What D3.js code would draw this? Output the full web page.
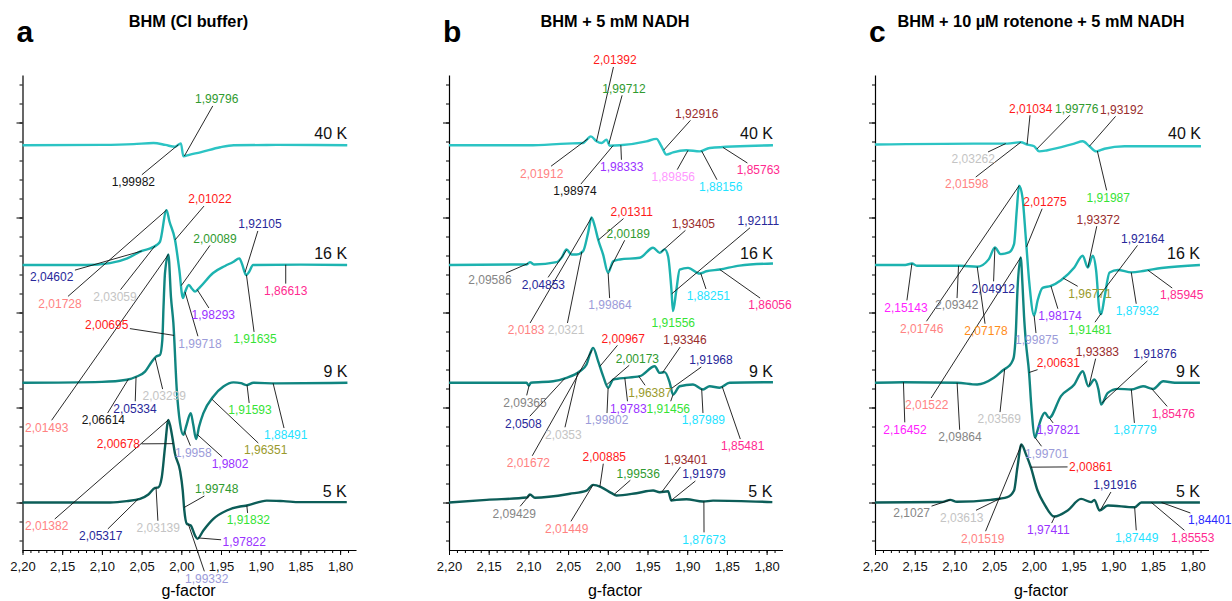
<!DOCTYPE html>
<html>
<head>
<meta charset="utf-8">
<script src="https://cdn.jsdelivr.net/npm/d3@7"></script>
<style>
  body { margin: 0; background: #fff; }
  svg text { font-family: Arial, "Liberation Sans", sans-serif; }
</style>
</head>
<body>
<svg id="chart" width="1232" height="601"></svg>
<script>
// ---- data ----
var letters = ["a", "b", "c"];
var titles = ["BHM (CI buffer)", "BHM + 5 mM NADH", "BHM + 10 \u00b5M rotenone + 5 mM NADH"];
var temps = ["40 K", "16 K", "9 K", "5 K"];
var offsets = [18.8, 12.5, 6.3, 0];
var gTicks = [2.20, 2.15, 2.10, 2.05, 2.00, 1.95, 1.90, 1.85, 1.80];

// spectra: [g, intensity] (arbitrary units, relative to each baseline)
var specA40 = [[2.20,0],[2.10,0.02],[2.06,0.06],[2.035,0.12],[2.02,0.02],[2.008,-0.08],[2.003,0.05],[2.0005,0.1],[1.9974,-0.58],[1.99,-0.5],[1.976,-0.37],[1.951,-0.1],[1.934,0],[1.88,0.02],[1.791,0]];
var specA16 = [[2.20,0],[2.12,0],[2.09,0.1],[2.068,0.35],[2.052,0.7],[2.031,1.05],[2.0268,1.23],[2.0186,2.89],[2.015,2.3],[2.0079,1.32],[2.0025,-0.26],[1.998,-1.74],[1.9953,-1.42],[1.9905,-1.05],[1.9865,-1.25],[1.9827,-1.4],[1.9764,-1.16],[1.96,-0.42],[1.9449,-0.05],[1.9348,0.16],[1.9269,0.35],[1.9235,0.05],[1.9184,-0.53],[1.9147,-0.37],[1.9096,0],[1.85,0.02],[1.7912,0]];
var specA9 = [[2.20,0],[2.10,0.05],[2.0687,0.16],[2.0561,0.33],[2.0457,0.59],[2.0372,1.11],[2.0318,1.38],[2.0268,1.47],[2.0239,2.26],[2.0224,4.0],[2.0205,5.8],[2.0163,6.75],[2.013,4.5],[2.01,3.15],[2.0057,-0.37],[2.0016,-2.12],[1.9974,-2.74],[1.994,-2.3],[1.9881,-1.6],[1.985,-2.2],[1.9814,-2.96],[1.9776,-2.3],[1.9722,-1.6],[1.9596,-0.72],[1.947,-0.2],[1.9344,0.02],[1.925,-0.02],[1.9175,-0.12],[1.9092,0],[1.88,-0.03],[1.7908,0]];
var specA5 = [[2.20,0],[2.0898,0],[2.0687,0.07],[2.052,0.19],[2.0415,0.42],[2.0331,0.77],[2.0289,0.8],[2.0246,1.33],[2.0205,2.93],[2.0163,4.35],[2.012,3.61],[2.0079,2.56],[2.0016,1.68],[1.9982,0.63],[1.9962,-0.42],[1.9931,-1.12],[1.9881,-1.21],[1.9827,-1.74],[1.9798,-1.91],[1.9722,-1.47],[1.9596,-0.86],[1.9427,-0.42],[1.926,-0.21],[1.9175,-0.16],[1.8924,0.1],[1.8714,0.07],[1.8504,0.02],[1.7916,0.02]];

var specB40 = [[2.20,0],[2.10,0],[2.052,0.09],[2.031,0.12],[2.0264,0.3],[2.0214,0.47],[2.0142,0.21],[2.0079,0.12],[2.0016,0.3],[1.9975,-0.02],[1.9849,0],[1.9513,0.21],[1.9387,0.34],[1.9325,-0.05],[1.9262,-0.49],[1.9178,-0.37],[1.901,-0.26],[1.8843,-0.32],[1.8717,-0.14],[1.792,0]];
var specB16 = [[2.20,0],[2.1023,0.03],[2.0981,0.15],[2.093,0.03],[2.0645,0.15],[2.0579,0.4],[2.052,0.82],[2.0457,0.55],[2.0394,0.55],[2.0311,0.73],[2.0248,1.7],[2.0205,2.5],[2.0164,2.04],[2.0122,1.34],[2.0059,0.55],[1.9996,-0.41],[1.9933,0.2],[1.9849,0.29],[1.9597,0.38],[1.943,0.91],[1.9346,0.64],[1.9283,0.82],[1.9241,0.46],[1.9199,-1.29],[1.9179,-2.43],[1.9136,-1.29],[1.9095,-0.24],[1.899,-0.15],[1.8843,-0.45],[1.8759,-0.33],[1.8592,-0.24],[1.834,-0.03],[1.792,0.08]];
var specB9 = [[2.20,0],[2.1023,0],[2.0995,-0.15],[2.0969,0],[2.0688,0.08],[2.052,0.26],[2.0352,0.61],[2.0268,0.96],[2.0226,1.5],[2.0185,1.84],[2.0122,1.14],[2.0059,0.35],[1.9996,-0.26],[1.9933,0.17],[1.9849,0.23],[1.9597,0.35],[1.9409,0.87],[1.9346,0.52],[1.9283,0.56],[1.922,0],[1.9179,-0.62],[1.9095,-0.18],[1.8927,-0.09],[1.8801,-0.35],[1.8717,-0.18],[1.8592,-0.26],[1.8466,0],[1.792,0.03]];
var specB5 = [[2.20,0],[2.1526,0.14],[2.1019,0.26],[2.0981,0.42],[2.0918,0.25],[2.0478,0.46],[2.0268,0.63],[2.0185,0.93],[2.0079,0.8],[1.9953,0.49],[1.9891,0.37],[1.9639,0.49],[1.943,0.63],[1.9346,0.54],[1.9241,0.59],[1.9199,0.1],[1.9136,0.14],[1.901,0.17],[1.8801,0.05],[1.8675,0.1],[1.7928,0.02]];

var specC40 = [[2.20,0.04],[2.0756,0.09],[2.0333,0.09],[2.0165,0.16],[2.008,0.04],[1.9996,-0.05],[1.9933,-0.32],[1.9827,-0.26],[1.949,0.09],[1.9384,0.21],[1.93,-0.05],[1.9215,-0.32],[1.911,-0.18],[1.8857,-0.05],[1.7895,-0.05]];
var specC16 = [[2.20,0],[2.162,0],[2.1535,0.08],[2.1472,-0.04],[2.0924,-0.04],[2.0713,-0.09],[2.0566,0.31],[2.049,0.92],[2.0418,0.57],[2.0313,0.66],[2.0249,1.1],[2.0215,2.86],[2.0186,4.17],[2.0143,3.56],[2.0101,1.44],[2.0059,-0.83],[1.9996,-2.66],[1.9953,-1.88],[1.989,-1.2],[1.9785,-1.1],[1.9658,-0.8],[1.949,-0.13],[1.9384,0.49],[1.932,-0.13],[1.9257,0.49],[1.9215,-0.3],[1.9173,-2.4],[1.9152,-2.58],[1.911,-1.71],[1.9046,-0.39],[1.894,-0.26],[1.8772,-0.39],[1.8604,-0.3],[1.8392,-0.16],[1.7908,0]];
var specC9 = [[2.20,0],[2.1642,0.03],[2.0966,0],[2.0713,-0.09],[2.0503,0.26],[2.0376,0.7],[2.0313,0.88],[2.027,1.14],[2.025,1.4],[2.0228,2.5],[2.0206,4.86],[2.0165,6.6],[2.0143,5.2],[2.0123,3.5],[2.0101,2.2],[2.0059,0.5],[2.003,-1.3],[1.9984,-2.88],[1.9953,-2.5],[1.9911,-1.93],[1.9861,-1.58],[1.9806,-1.84],[1.9658,-0.7],[1.949,-0.09],[1.9384,0.61],[1.9313,-0.18],[1.9237,0.17],[1.9186,-0.35],[1.9152,-1.14],[1.9068,-0.53],[1.8941,-0.32],[1.8772,-0.35],[1.8624,-0.18],[1.8497,-0.32],[1.837,0.08],[1.8224,0],[1.7908,0]];
var specC5 = [[2.20,0],[2.115,0.03],[2.1051,0.14],[2.097,0.04],[2.0544,0.14],[2.0333,0.28],[2.0249,0.63],[2.0206,1.86],[2.0156,3.05],[2.0101,2.56],[2.0038,1.86],[1.9953,0.63],[1.9869,-0.07],[1.9743,-0.74],[1.9574,-0.42],[1.9405,0.19],[1.9278,0.02],[1.9237,0.14],[1.9173,-0.42],[1.9068,-0.16],[1.873,-0.25],[1.8646,0],[1.7908,0]];

// peak labels: [text, trace index, g where the leader meets the trace, colour key]
var labelsA = [
  ["1,99796",0,1.9962,"green"],["1,99982",0,2.0037,"black"],["2,01022",1,2.0079,"red"],
  ["2,04602",1,2.0498,"navy"],["2,01728",1,2.0186,"salmon"],["2,03059",1,2.033,"silver"],
  ["2,00695",2,2.0092,"red"],["1,99718",1,1.9953,"lav"],["1,98293",1,1.980,"purple"],
  ["2,00089",1,2.000,"green"],["1,92105",1,1.9197,"navy"],["1,91635",1,1.918,"lime"],
  ["1,86613",1,1.8685,"pink"],["2,01493",2,2.0163,"salmon"],["2,06614",2,2.0667,"black"],
  ["2,05334",2,2.057,"navy"],["2,03299",2,2.033,"silver"],["1,9958",2,1.996,"lav"],
  ["1,9802",2,1.980,"purple"],["1,96351",2,1.9616,"olive"],["1,91593",2,1.9172,"lime"],
  ["1,88491",2,1.8844,"cyan"],["2,00678",3,2.010,"red"],["2,01382",3,2.0163,"salmon"],
  ["2,05317",3,2.0545,"navy"],["2,03139",3,2.0318,"silver"],["1,99748",3,1.9965,"green"],
  ["1,91832",3,1.9175,"lime"],["1,97822",3,1.979,"purple"],["1,99332",3,1.991,"lav"]
];
var labelsB = [
  ["2,01392",0,2.0142,"red"],["1,99712",0,1.9987,"green"],["1,92916",0,1.9296,"maroon"],
  ["2,01912",0,2.025,"salmon"],["1,98974",0,1.9933,"black"],["1,98333",0,1.9836,"purple"],
  ["1,89856",0,1.899,"violet"],["1,88156",0,1.882,"cyan"],["1,85763",0,1.855,"pink"],
  ["2,01311",1,2.012,"red"],["2,00189",1,1.9984,"green"],["1,93405",1,1.9325,"maroon"],
  ["1,92111",1,1.9195,"navy"],["2,09586",1,2.1005,"gray"],["2,04853",1,2.0516,"navy"],
  ["1,99864",1,1.9996,"lav"],["1,91556",1,null,"lime"],["1,88251",1,1.883,"cyan"],
  ["1,86056",1,1.859,"pink"],["2,0183",1,2.0205,"salmon"],["2,0321",1,2.0327,"silver"],
  ["2,00967",2,2.010,"red"],["2,00173",2,2.0013,"green"],["1,93346",2,1.931,"maroon"],
  ["1,91968",2,1.920,"navy"],["2,09365",2,2.099,"gray"],["2,0508",2,2.054,"navy"],
  ["2,0353",2,2.0377,"silver"],["2,01672",2,2.020,"salmon"],["1,99802",2,1.9996,"lav"],
  ["1,9783",2,1.9786,"purple"],["1,96387",2,1.961,"olive"],["1,91456",2,1.9179,"lime"],
  ["1,87989",2,1.8818,"cyan"],["1,85481",2,1.856,"pink"],["2,00885",3,2.010,"red"],
  ["1,99536",3,1.992,"green"],["1,93401",3,1.932,"maroon"],["1,91979",3,1.920,"navy"],
  ["2,09429",3,2.098,"gray"],["2,01449",3,2.0186,"salmon"],["1,87673",3,1.879,"cyan"]
];
var labelsC = [
  ["2,01034",0,2.0085,"red"],["1,99776",0,1.9962,"green"],["1,93192",0,1.930,"maroon"],
  ["2,03262",0,2.0354,"silver"],["2,01598",0,2.0165,"salmon"],["1,91987",0,1.920,"lime"],
  ["2,01275",1,2.0092,"red"],["1,93372",1,1.932,"maroon"],["1,92164",1,1.9187,"navy"],
  ["2,15143",1,2.1535,"magenta"],["2,09342",1,2.0948,"gray"],["2,04912",1,2.049,"navy"],
  ["2,01746",1,2.0186,"salmon"],["2,07178",1,2.0713,"orange"],["1,96771",1,1.963,"olive"],
  ["1,98174",1,1.9785,"purple"],["1,99875",1,1.9996,"lav"],["1,91481",1,1.915,"lime"],
  ["1,87932",1,1.8773,"cyan"],["1,85945",1,1.8563,"pink"],["2,00631",2,2.006,"red"],
  ["1,93383",2,1.9303,"maroon"],["1,91876",2,1.9139,"navy"],["2,01522",2,2.0165,"salmon"],
  ["2,16452",2,2.1642,"magenta"],["2,09864",2,2.0966,"gray"],["2,03569",2,2.0367,"silver"],
  ["1,97821",2,1.9806,"purple"],["1,87779",2,1.8772,"cyan"],["1,85476",2,1.8519,"pink"],
  ["1,99701",2,1.9984,"lav"],["2,00861",3,2.0038,"red"],["1,91916",3,1.916,"navy"],
  ["2,1027",3,2.1051,"gray"],["2,03613",3,2.0418,"silver"],["2,01519",3,2.0156,"salmon"],
  ["1,97411",3,1.9734,"purple"],["1,87449",3,1.873,"cyan"],["1,85553",3,1.8519,"pink"],
  ["1,84401",3,1.8392,"blue"]
];

// where each label text sits, in [g, intensity] of the panel
var spotsA = [[1.9554,21.24],[2.0604,16.88],[1.9639,15.97],[2.1632,11.88],[2.1528,10.48],[2.0835,10.83],
  [2.094,9.34],[1.9765,8.38],[1.9597,9.87],[1.9576,13.9],[1.9009,14.66],[1.9072,8.61],[1.8685,11.15],
  [2.1695,3.96],[2.0982,4.34],[2.0583,4.96],[2.0214,5.6],[1.9849,2.62],[1.9387,2.03],[1.8937,2.76],
  [1.9135,4.87],[1.8685,3.55],[2.0793,3.08],[2.1695,-1.24],[2.1015,-1.76],[2.029,-1.33],[1.9554,0.71],
  [1.9156,-0.92],[1.9207,-2.06],[1.968,-3.99]];
var spotsB = [[1.9909,23.29],[1.9796,21.8],[1.888,20.48],[2.0833,17.33],[2.0413,16.39],[1.9825,17.67],
  [1.9175,17.15],[1.8578,16.62],[1.8104,17.5],[1.9699,15.31],[1.9742,14.17],[1.8923,14.69],[1.8104,14.83],
  [2.1484,11.71],[2.0812,11.48],[1.9972,10.39],[1.9175,9.47],[1.8734,10.87],[1.7957,10.39],[2.103,9.08],
  [2.0526,9.08],[1.9805,8.64],[1.9628,7.59],[1.9028,8.55],[1.87,7.5],[2.1043,5.27],[2.1064,4.17],
  [2.056,3.59],[2.1001,2.09],[2.0014,4.34],[1.9742,4.96],[1.9469,5.8],[1.9238,4.96],[1.8797,4.34],
  [1.8301,2.97],[2.0044,2.41],[1.9616,1.54],[1.9019,2.24],[1.8788,1.5],[2.1178,-0.57],[2.0518,-1.36],
  [1.8788,-1.94]];
var spotsC = [[2.0039,20.75],[1.946,20.75],[1.8893,20.69],[2.0762,18.08],[2.0845,16.76],[1.9062,16.06],
  [1.9859,15.83],[1.9188,14.91],[1.8628,13.9],[2.161,10.27],[2.0971,10.39],[2.051,11.27],[2.1412,9.17],
  [2.0602,9.04],[1.9292,11.01],[1.967,9.83],[1.9963,8.55],[1.9292,9.12],[1.8696,10.09],[1.8137,10.92],
  [1.9691,7.36],[1.92,7.94],[1.8474,7.82],[2.1349,5.13],[2.1622,3.85],[2.0929,3.46],[2.0435,4.39],
  [1.9691,3.82],[1.8725,3.82],[1.8243,4.69],[1.9838,2.59],[1.9283,1.88],[1.8977,0.92],[2.1538,-0.54],
  [2.0908,-0.78],[2.0644,-1.88],[1.9817,-1.45],[1.8704,-1.83],[1.7999,-1.83],[1.7785,-0.92]];

// ---- styles ----
var traceColors = ["#2cc4c4", "#1db3b0", "#108580", "#0c5d58"];
var labelColors = {
  red: "#ff1a1a", salmon: "#ff8282", silver: "#c4c4c4", gray: "#858585", navy: "#28289a",
  blue: "#2a2aff", lav: "#9b9bd9", purple: "#9a33ff", green: "#2f9a2f", lime: "#35e335",
  olive: "#9a9a2c", cyan: "#1fe2ff", pink: "#ff2a90", maroon: "#992c2c", black: "#141414",
  violet: "#ff99ff", magenta: "#ff22ff", orange: "#ff8c1a"
};

var panels = [
  { spectra: [specA40, specA16, specA9, specA5], labels: labelsA, spots: spotsA },
  { spectra: [specB40, specB16, specB9, specB5], labels: labelsB, spots: spotsB },
  { spectra: [specC40, specC16, specC9, specC5], labels: labelsC, spots: spotsC }
];

var svg = d3.select("#chart");
var panelLeft = [22.5, 449, 875];
var plotW = 333.5;
var y = d3.scaleLinear().domain([-2.5, 22.5]).range([550, 75]);
var commaFmt = function(d) { return d3.format(".2f")(d).replace(".", ","); };

// value of a spectrum at g (linear between read points)
function valueAt(spec, g) {
  for (var k = 0; k < spec.length - 1; k++) {
    var p = spec[k], q = spec[k + 1];
    if (g <= p[0] && g >= q[0]) {
      var t = (p[0] - g) / (p[0] - q[0]);
      return p[1] + t * (q[1] - p[1]);
    }
  }
  return 0;
}

panels.forEach(function(panel, i) {
  var x0 = panelLeft[i];
  var x = d3.scaleLinear().domain([2.20, 1.78]).range([x0, x0 + plotW]);
  var g = svg.append("g");

  // panel letter and title
  g.append("text").attr("x", x0 - 6).attr("y", 42)
    .attr("font-size", 30).attr("font-weight", "bold").text(letters[i]);
  g.append("text").attr("x", x0 + 166).attr("y", 27).attr("text-anchor", "middle")
    .attr("font-size", 16.3).attr("font-weight", "bold").text(titles[i]);

  // x axis: minor then major ticks
  var minor = d3.range(0, 42).map(function(k) { return +(2.20 - k * 0.01).toFixed(2); });
  g.append("g").attr("transform", "translate(0,550)")
    .call(d3.axisBottom(x).tickValues(minor).tickSize(3).tickSizeOuter(0).tickFormat(""))
    .call(function(s) { s.select(".domain").remove(); });
  var xa = g.append("g").attr("transform", "translate(0,550)")
    .call(d3.axisBottom(x).tickValues(gTicks).tickSize(5).tickSizeOuter(0)
      .tickPadding(7).tickFormat(commaFmt));
  xa.selectAll("text").attr("font-size", 13).attr("font-family", "Arial, 'Liberation Sans', sans-serif").attr("fill", "#111");
  xa.select(".domain").attr("stroke-width", 1.2);

  // y axis (no labels)
  g.append("g").attr("transform", "translate(" + x0 + ",0)")
    .call(d3.axisLeft(y).tickValues(d3.range(-2, 23)).tickSize(3).tickSizeOuter(0).tickFormat(""))
    .call(function(s) { s.select(".domain").remove(); });
  g.append("g").attr("transform", "translate(" + x0 + ",0)")
    .call(d3.axisLeft(y).tickValues([0, 5, 10, 15, 20]).tickSize(6).tickSizeOuter(0).tickFormat(""))
    .select(".domain").attr("stroke-width", 1.2);

  g.append("text").attr("x", x0 + 166).attr("y", 596).attr("text-anchor", "middle")
    .attr("font-size", 16).text("g-factor");

  // spectra
  panel.spectra.forEach(function(spec, t) {
    var line = d3.line()
      .x(function(d) { return x(d[0]); })
      .y(function(d) { return y(d[1] + offsets[t]); })
      .curve(d3.curveMonotoneX);
    g.append("path").datum(spec).attr("d", line)
      .attr("fill", "none").attr("stroke", traceColors[t])
      .attr("stroke-width", 2.4).attr("stroke-linejoin", "round");
    var end = spec[spec.length - 1];
    g.append("text").attr("x", x(end[0])).attr("y", y(offsets[t]) - 6)
      .attr("text-anchor", "end").attr("font-size", 16).attr("fill", "#111").text(temps[t]);
  });

  // peak labels with leader lines
  var leaders = g.append("g");
  var texts = g.append("g");
  panel.labels.forEach(function(lab, k) {
    var spot = panel.spots[k];
    var cx = x(spot[0]), cy = y(spot[1]);
    var txt = texts.append("text").attr("x", cx).attr("y", cy).attr("dy", "0.36em")
      .attr("text-anchor", "middle").attr("font-size", 12)
      .attr("fill", labelColors[lab[3]]).text(lab[0]);
    if (lab[2] === null) return;
    var ax = x(lab[2]);
    var ay = y(valueAt(panel.spectra[lab[1]], lab[2]) + offsets[lab[1]]);
    var hw = txt.node().getComputedTextLength() / 2 + 1.5, hh = 7;
    var dx = ax - cx, dy = ay - cy;
    var s = Math.min(dx ? hw / Math.abs(dx) : Infinity, dy ? hh / Math.abs(dy) : Infinity);
    if (s >= 1) return;
    leaders.append("line")
      .attr("x1", cx + dx * s).attr("y1", cy + dy * s)
      .attr("x2", ax).attr("y2", ay)
      .attr("stroke", "#111").attr("stroke-width", 0.9);
  });
});
</script>
</body>
</html>
